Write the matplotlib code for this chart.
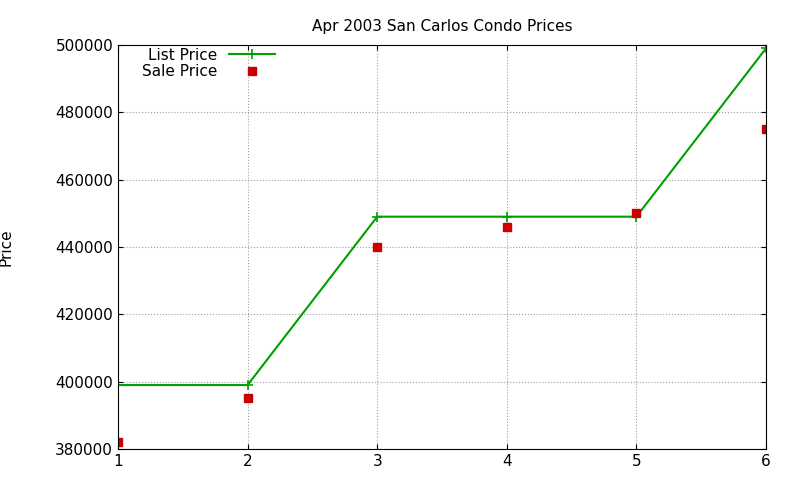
import matplotlib
matplotlib.use("Agg")
import matplotlib.pyplot as plt

list_x = [1, 2, 3, 4, 5, 6]
list_price = [399000, 399000, 449000, 449000, 449000, 499000]
sale_x = [1, 2, 3, 4, 5, 6]
sale_price = [382000, 395000, 440000, 446000, 450000, 475000]
yticks = [380000, 400000, 420000, 440000, 460000, 480000, 500000]

fig = plt.figure(figsize=(8, 4.8), dpi=100)
ax = fig.add_axes([0.1475, 0.0646, 0.81, 0.8417])
ax.plot(list_x, list_price, color="#00a000", lw=1.5, marker="+", ms=7, mew=1.2, label="List Price")
ax.plot(sale_x, sale_price, ls="none", color="#cc0000", marker="s", ms=6, label="Sale Price")
ax.set_xlim(1, 6)
ax.set_ylim(380000, 500000)
ax.set_yticks(yticks)
ax.set_xticks(list_x)
ax.grid(True, color="#a0a0a0", ls=":", lw=0.8)
ax.tick_params(direction="in", labelsize=11, top=True, right=True)
ax.set_ylabel("Price", fontsize=11, labelpad=30)
ax.set_title("Apr 2003 San Carlos Condo Prices", fontsize=11, pad=10)
ax.legend(loc="upper left", markerfirst=False, frameon=False, fontsize=11, numpoints=1,
          bbox_to_anchor=(0.02, 1.02), handlelength=3.0, borderpad=0.2, labelspacing=0.1)
fig.savefig("out.png")
